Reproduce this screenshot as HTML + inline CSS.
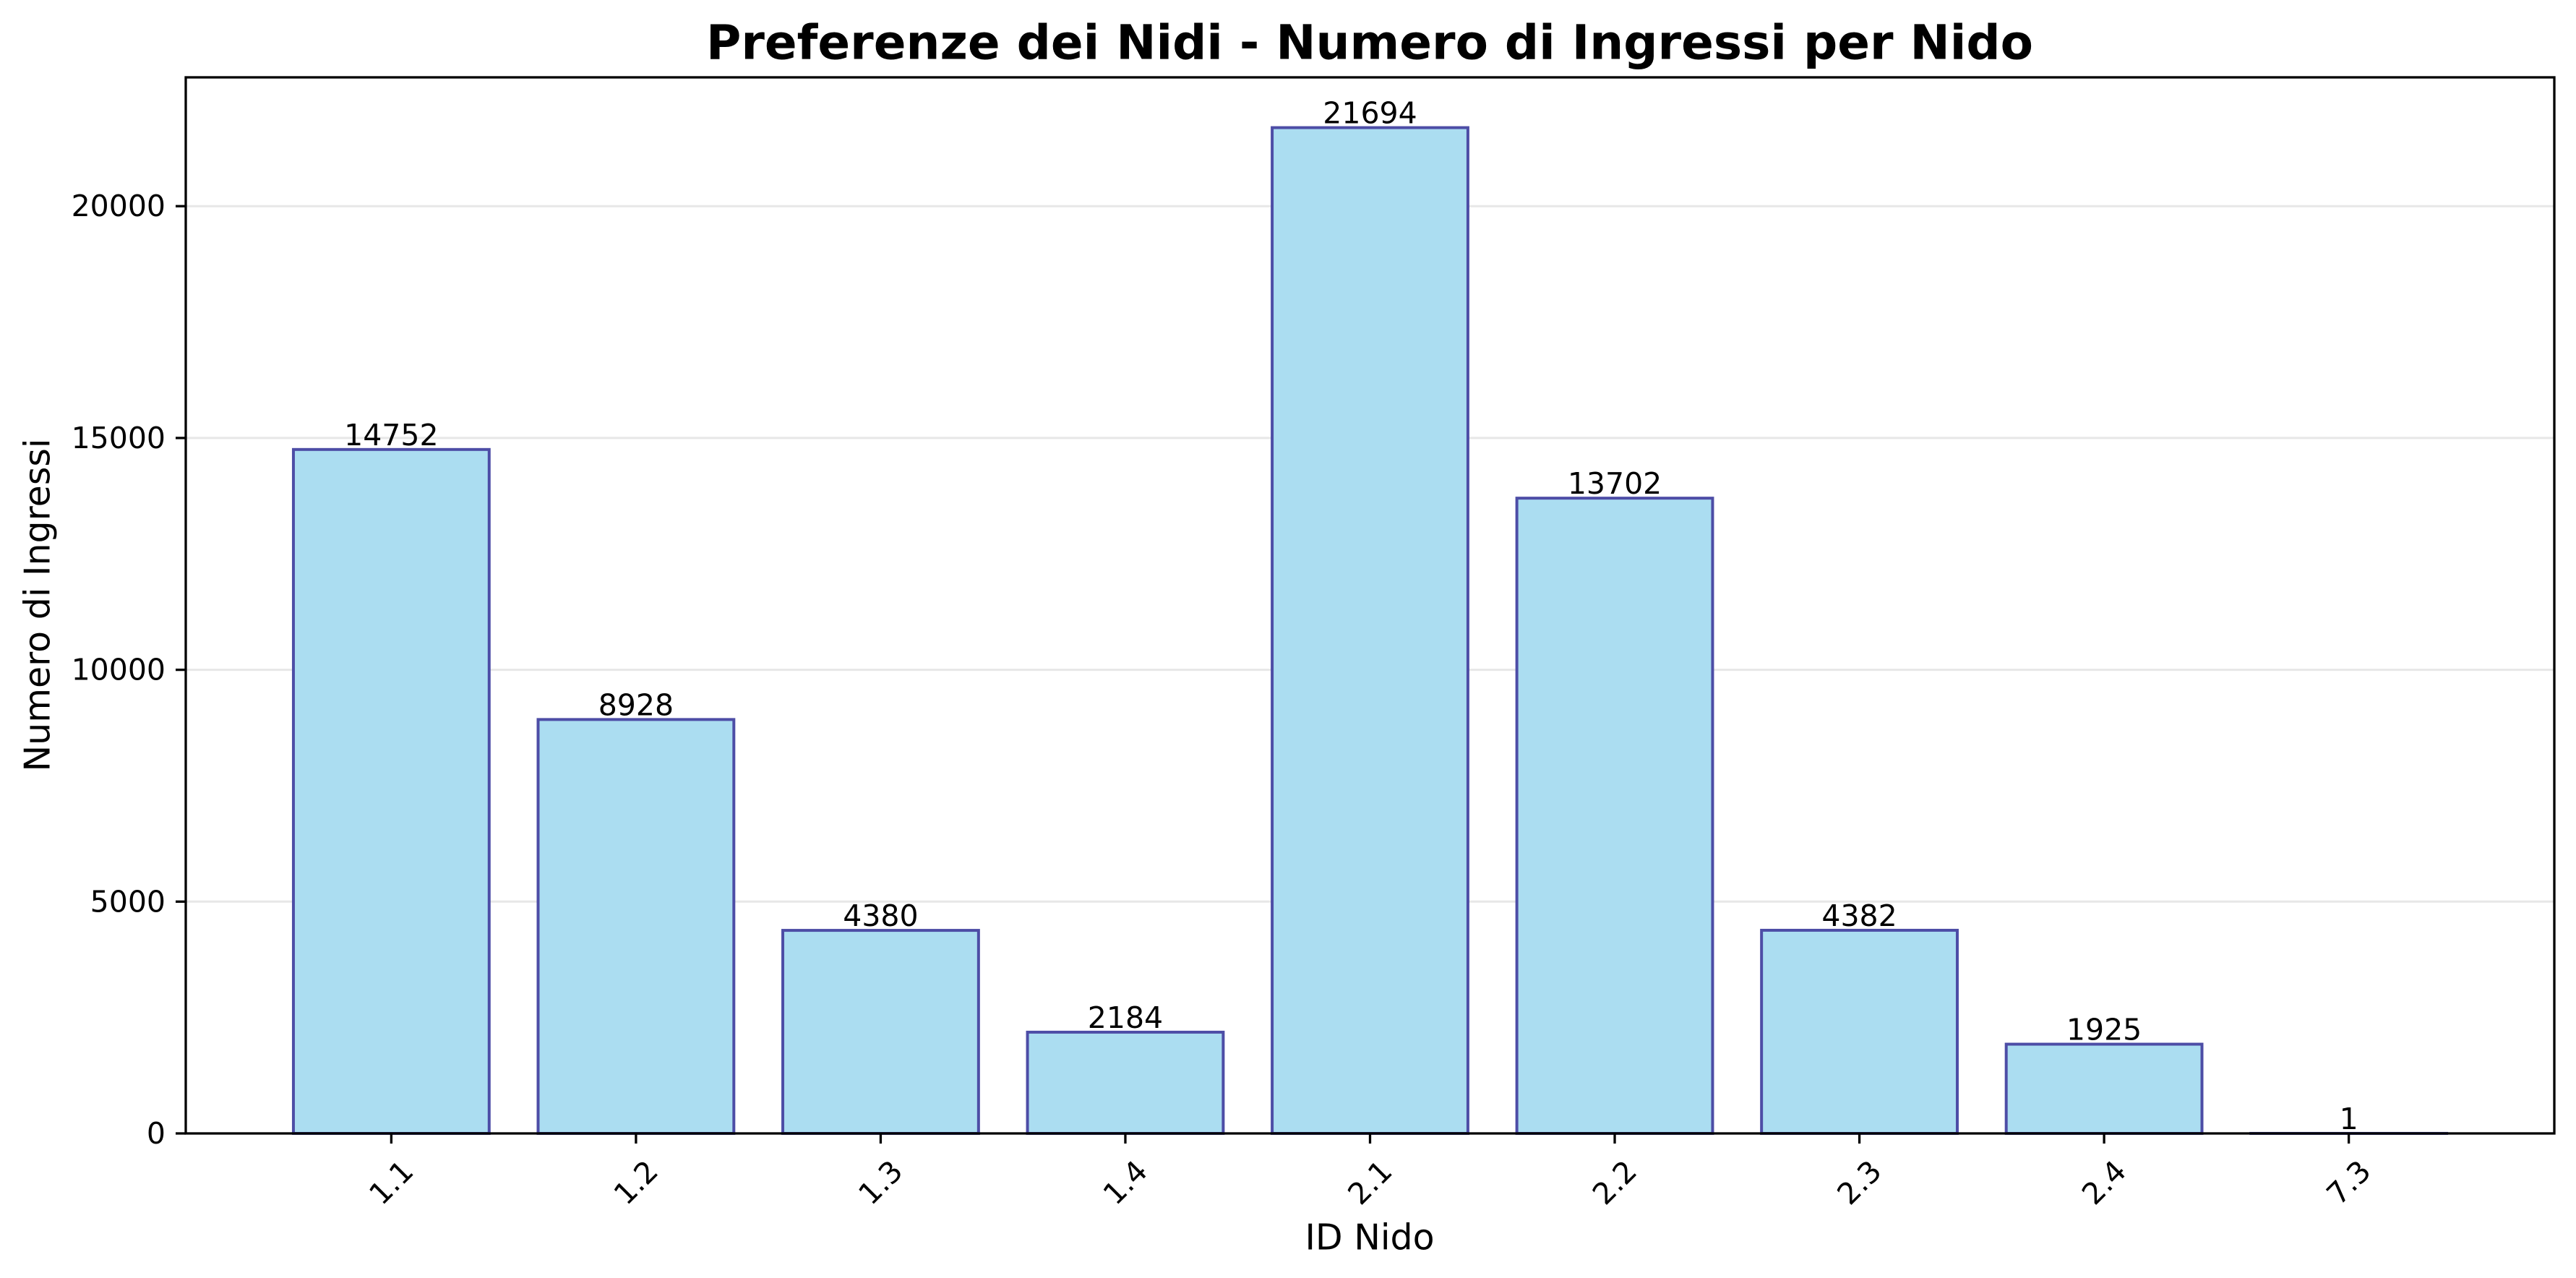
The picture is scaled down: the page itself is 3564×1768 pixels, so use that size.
<!DOCTYPE html>
<html><head><meta charset="utf-8">
<style>html,body{margin:0;padding:0;background:#fff}svg{display:block}text{font-family:"DejaVu Sans","Liberation Sans",sans-serif}</style>
</head><body>
<svg id="chart" width="3564" height="1768" viewBox="0 0 3564 1768" xmlns="http://www.w3.org/2000/svg">
<rect width="3564" height="1768" fill="#fff"/>
<text x="1895" y="59" text-anchor="middle" dominant-baseline="central" font-size="66" font-weight="bold">Preferenze dei Nidi - Numero di Ingressi per Nido</text>
<g id="grid"></g><g id="bars"></g><g id="axes"></g>
<text x="1895" y="1712" text-anchor="middle" dominant-baseline="central" font-size="49">ID Nido</text>
<text transform="translate(52,837) rotate(-90)" text-anchor="middle" dominant-baseline="central" font-size="49">Numero di Ingressi</text>
</svg>
<script>
const categories = ["1.1","1.2","1.3","1.4","2.1","2.2","2.3","2.4","7.3"];
const values = [14752,8928,4380,2184,21694,13702,4382,1925,1];
const yTicks = [0,5000,10000,15000,20000];
const NS="http://www.w3.org/2000/svg";
const L=257,R=3534,T=107,B=1568;
const ymax=Math.max(...values)*1.05;
const xmin=-0.84,xmax=categories.length-1+0.84;
const xs=i=>L+(i-xmin)/(xmax-xmin)*(R-L);
const ys=v=>B-v/ymax*(B-T);
function mk(tag,attrs,parent,txt){const e=document.createElementNS(NS,tag);for(const k in attrs)e.setAttribute(k,attrs[k]);if(txt!==undefined)e.textContent=txt;parent.appendChild(e);return e;}
const grid=document.getElementById('grid'),bars=document.getElementById('bars'),axes=document.getElementById('axes');
yTicks.forEach(t=>{
  const g=mk('line',{x1:L,x2:R,y1:ys(t),y2:ys(t),stroke:'#b0b0b0','stroke-opacity':0.3,'stroke-width':3},grid);
  
  
  const tk=mk('line',{x1:L-14,x2:L,y1:ys(t),y2:ys(t),stroke:'#000','stroke-width':3.3},axes);
  
  
  const lb=mk('text',{x:L-28,y:ys(t),'text-anchor':'end','dominant-baseline':'central','font-size':41},axes,String(t));
  
  
});
const bw=0.8*(R-L)/(xmax-xmin);
categories.forEach((c,i)=>{
  const x=xs(i),y=ys(values[i]);
  const r=mk('rect',{x:x-bw/2,y:y,width:bw,height:B-y,fill:'#abddf1',stroke:'#4d4da6','stroke-width':4},bars);
  
  
  const v=mk('text',{x:x,y:y-6,'text-anchor':'middle','font-size':41},bars,String(values[i]));
  
  
  const tk=mk('line',{x1:x,x2:x,y1:B,y2:B+14,stroke:'#000','stroke-width':3.3},axes);
  
  
  const lb=mk('text',{transform:`translate(${x},1636) rotate(-45)`,'text-anchor':'middle','dominant-baseline':'central','font-size':41},axes,c);
  
  
});
const fr=mk('rect',{x:L,y:T,width:R-L,height:B-T,fill:'none',stroke:'#000','stroke-width':3.3},axes);


</script>
</body></html>
